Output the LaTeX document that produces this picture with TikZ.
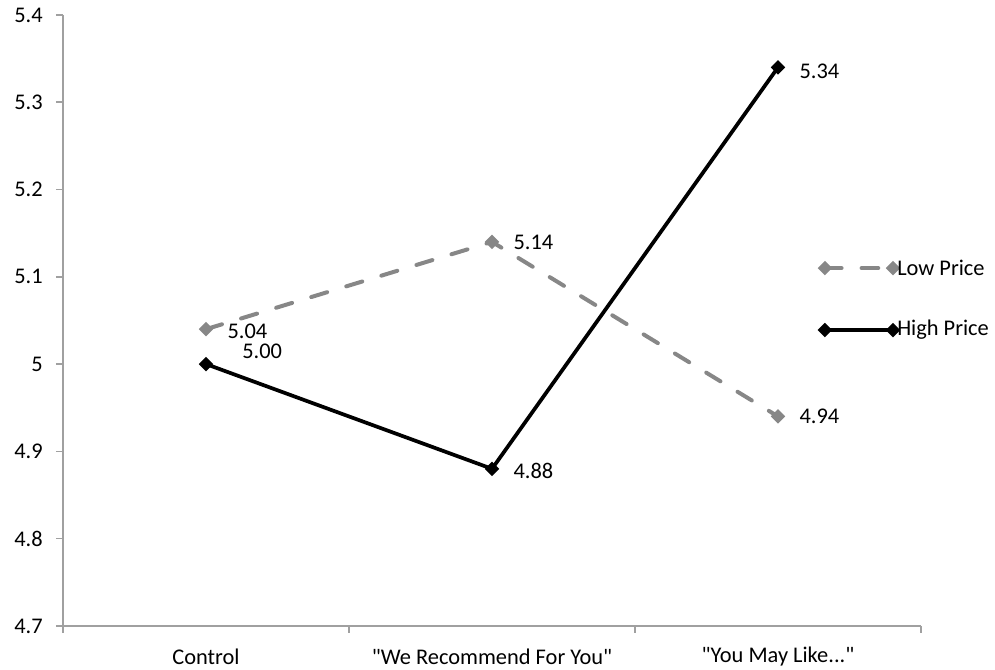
\documentclass[tikz,border=0pt]{standalone}
\usepackage{fontspec}
\setmainfont{Carlito}[Ligatures=TeXOff]
\usetikzlibrary{arrows.meta,positioning,shapes}
\definecolor{axisgray}{RGB}{160,160,160}
\definecolor{lowgray}{RGB}{135,135,135}

\tikzset{
  lowline/.style={lowgray, line width=3pt, line cap=round, dash pattern=on 12.5pt off 15pt},
  highline/.style={black, line width=2.8pt},
  lowmark/.style={diamond, fill=lowgray, inner sep=0pt, minimum size=11pt},
  highmark/.style={diamond, fill=black, inner sep=0pt, minimum size=11pt},
  val/.style={anchor=west, inner sep=0pt, xshift=16pt}
}

\begin{document}
\begin{tikzpicture}[x=214.5pt, y=654.6pt, font=\fontsize{16.8}{20}\selectfont]
\useasboundingbox (-0.2203,4.6496) rectangle (3.2587,5.4172);

% axes
\draw[axisgray, line width=1.2pt] (0,5.4) -- (0,4.7) -- (3,4.7);
\foreach \y/\lab in {4.7/4.7, 4.8/4.8, 4.9/4.9, 5/5, 5.1/5.1, 5.2/5.2, 5.3/5.3, 5.4/5.4} {
  \draw[axisgray, line width=1.2pt] (-0.0245,\y) -- (0,\y);
  \node[anchor=east, inner sep=0pt] at (-0.07,\y) {\lab};
}
\foreach \x in {0,1,2,3}
  \draw[axisgray, line width=1.2pt] (\x,4.7) -- (\x,4.692);
\foreach \x/\txt in {0.5/Control, 1.5/{"We Recommend For You"}, 2.5/{"You May Like..."}}
  \node at (\x,4.6645) {\txt};

% data points
\coordinate (lo1) at (0.5,5.04);
\coordinate (lo2) at (1.5,5.14);
\coordinate (lo3) at (2.5,4.94);
\coordinate (hi1) at (0.5,5.00);
\coordinate (hi2) at (1.5,4.88);
\coordinate (hi3) at (2.5,5.34);

\draw[lowline] (lo1) -- (lo2) -- (lo3);
\foreach \p in {lo1,lo2,lo3}
  \node[lowmark] at (\p) {};
\draw[highline] (hi1) -- (hi2) -- (hi3);
\foreach \p in {hi1,hi2,hi3}
  \node[highmark] at (\p) {};

% value labels
\node[val] at (lo1) [yshift=-1.8pt] {5.04};
\node[val] at (lo2) {5.14};
\node[val] at (lo3) {4.94};
\node[val, xshift=11pt, yshift=9.4pt] at (hi1) {5.00};
\node[val] at (hi2) [yshift=-1.5pt] {4.88};
\node[val] at (hi3) [yshift=-3pt] {5.34};

% legend
\coordinate (lgl1) at (2.664,5.110);
\coordinate (lgl2) at (2.902,5.110);
\coordinate (lgh1) at (2.664,5.039);
\coordinate (lgh2) at (2.902,5.039);
\draw[lowline] (lgl1) -- (lgl2);
\node[lowmark] at (lgl1) {};
\node[lowmark] at (lgl2) {};
\node[anchor=west, inner sep=0pt, xshift=3pt] at (lgl2) {Low Price};
\draw[highline] (lgh1) -- (lgh2);
\node[highmark] at (lgh1) {};
\node[highmark] at (lgh2) {};
\node[anchor=west, inner sep=0pt, xshift=3pt] at (lgh2) {High Price};
\end{tikzpicture}
\end{document}
